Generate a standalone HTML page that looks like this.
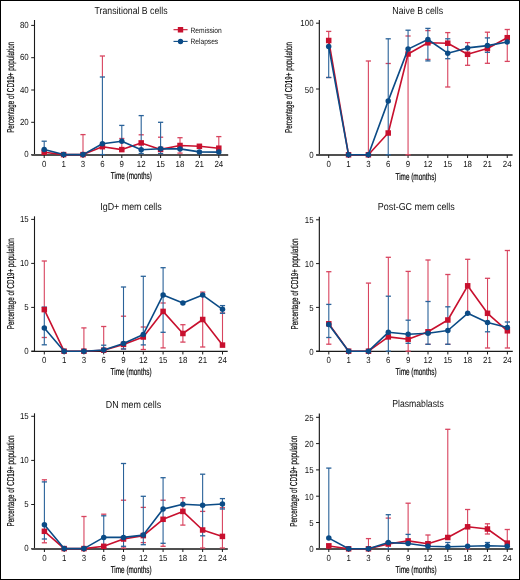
<!DOCTYPE html><html><head><meta charset="utf-8"><title>B cell subsets</title>
<style>html,body{margin:0;padding:0;background:#fff;}svg{display:block;will-change:transform;text-rendering:geometricPrecision;}text{font-family:"Liberation Sans", sans-serif;}.tk{fill:#111;}</style></head><body>
<svg width="520" height="580" viewBox="0 0 520 580">
<rect x="0" y="0" width="520" height="580" fill="#fff"/>
<rect x="0.5" y="0.5" width="519" height="579" fill="none" stroke="#000" stroke-width="1"/>
<g><text x="131.1" y="13.8" font-size="10.1" text-anchor="middle" fill="#111" textLength="73" lengthAdjust="spacingAndGlyphs">Transitional B cells</text><line x1="34.5" y1="20" x2="34.5" y2="155" stroke="#1a1a1a" stroke-width="1.1"/><line x1="31.2" y1="154.6" x2="34.5" y2="154.6" stroke="#1a1a1a" stroke-width="1"/><text x="28.7" y="157.3" font-size="8.8" text-anchor="end" class="tk" textLength="4.4" lengthAdjust="spacingAndGlyphs">0</text><line x1="31.2" y1="122.3" x2="34.5" y2="122.3" stroke="#1a1a1a" stroke-width="1"/><text x="28.7" y="125" font-size="8.8" text-anchor="end" class="tk" textLength="8.81" lengthAdjust="spacingAndGlyphs">20</text><line x1="31.2" y1="90" x2="34.5" y2="90" stroke="#1a1a1a" stroke-width="1"/><text x="28.7" y="92.7" font-size="8.8" text-anchor="end" class="tk" textLength="8.81" lengthAdjust="spacingAndGlyphs">40</text><line x1="31.2" y1="57.7" x2="34.5" y2="57.7" stroke="#1a1a1a" stroke-width="1"/><text x="28.7" y="60.4" font-size="8.8" text-anchor="end" class="tk" textLength="8.81" lengthAdjust="spacingAndGlyphs">60</text><line x1="31.2" y1="25.4" x2="34.5" y2="25.4" stroke="#1a1a1a" stroke-width="1"/><text x="28.7" y="28.1" font-size="8.8" text-anchor="end" class="tk" textLength="8.81" lengthAdjust="spacingAndGlyphs">80</text><line x1="31.5" y1="155" x2="228.2" y2="155" stroke="#505050" stroke-width="2"/><line x1="44.2" y1="155" x2="44.2" y2="158" stroke="#1a1a1a" stroke-width="1"/><text x="44.2" y="166.6" font-size="8.8" text-anchor="middle" class="tk" textLength="4.4" lengthAdjust="spacingAndGlyphs">0</text><line x1="63.6" y1="155" x2="63.6" y2="158" stroke="#1a1a1a" stroke-width="1"/><text x="63.6" y="166.6" font-size="8.8" text-anchor="middle" class="tk" textLength="4.4" lengthAdjust="spacingAndGlyphs">1</text><line x1="83" y1="155" x2="83" y2="158" stroke="#1a1a1a" stroke-width="1"/><text x="83" y="166.6" font-size="8.8" text-anchor="middle" class="tk" textLength="4.4" lengthAdjust="spacingAndGlyphs">3</text><line x1="102.4" y1="155" x2="102.4" y2="158" stroke="#1a1a1a" stroke-width="1"/><text x="102.4" y="166.6" font-size="8.8" text-anchor="middle" class="tk" textLength="4.4" lengthAdjust="spacingAndGlyphs">6</text><line x1="121.8" y1="155" x2="121.8" y2="158" stroke="#1a1a1a" stroke-width="1"/><text x="121.8" y="166.6" font-size="8.8" text-anchor="middle" class="tk" textLength="4.4" lengthAdjust="spacingAndGlyphs">9</text><line x1="141.2" y1="155" x2="141.2" y2="158" stroke="#1a1a1a" stroke-width="1"/><text x="141.2" y="166.6" font-size="8.8" text-anchor="middle" class="tk" textLength="8.81" lengthAdjust="spacingAndGlyphs">12</text><line x1="160.6" y1="155" x2="160.6" y2="158" stroke="#1a1a1a" stroke-width="1"/><text x="160.6" y="166.6" font-size="8.8" text-anchor="middle" class="tk" textLength="8.81" lengthAdjust="spacingAndGlyphs">15</text><line x1="180" y1="155" x2="180" y2="158" stroke="#1a1a1a" stroke-width="1"/><text x="180" y="166.6" font-size="8.8" text-anchor="middle" class="tk" textLength="8.81" lengthAdjust="spacingAndGlyphs">18</text><line x1="199.4" y1="155" x2="199.4" y2="158" stroke="#1a1a1a" stroke-width="1"/><text x="199.4" y="166.6" font-size="8.8" text-anchor="middle" class="tk" textLength="8.81" lengthAdjust="spacingAndGlyphs">21</text><line x1="218.8" y1="155" x2="218.8" y2="158" stroke="#1a1a1a" stroke-width="1"/><text x="218.8" y="166.6" font-size="8.8" text-anchor="middle" class="tk" textLength="8.81" lengthAdjust="spacingAndGlyphs">24</text><text x="131.35" y="178.9" font-size="10" text-anchor="middle" fill="#000" stroke="#000" stroke-width="0.18" textLength="41" lengthAdjust="spacingAndGlyphs">Time (months)</text><text transform="translate(14 87.35) rotate(-90)" x="0" y="0" font-size="10" text-anchor="middle" fill="#000" stroke="#000" stroke-width="0.18" textLength="91" lengthAdjust="spacingAndGlyphs">Percentage of CD19+ population</text><line x1="83" y1="134.6" x2="83" y2="154.6" stroke="#d8445f" stroke-width="1.1"/><line x1="80.4" y1="134.6" x2="85.6" y2="134.6" stroke="#d8445f" stroke-width="1.3"/><line x1="102.4" y1="56" x2="102.4" y2="77" stroke="#d8445f" stroke-width="1.1"/><line x1="99.8" y1="56" x2="105" y2="56" stroke="#d8445f" stroke-width="1.3"/><line x1="121.8" y1="141.2" x2="121.8" y2="149.6" stroke="#d8445f" stroke-width="1.1"/><line x1="119.2" y1="138.5" x2="124.4" y2="138.5" stroke="#d8445f" stroke-width="1.3"/><line x1="138.6" y1="134.8" x2="143.8" y2="134.8" stroke="#d8445f" stroke-width="1.3"/><line x1="158" y1="137.2" x2="163.2" y2="137.2" stroke="#d8445f" stroke-width="1.3"/><line x1="180" y1="137.7" x2="180" y2="145.5" stroke="#d8445f" stroke-width="1.1"/><line x1="177.4" y1="137.7" x2="182.6" y2="137.7" stroke="#d8445f" stroke-width="1.3"/><line x1="180" y1="145.5" x2="180" y2="153.1" stroke="#d8445f" stroke-width="1.1"/><line x1="177.4" y1="153.1" x2="182.6" y2="153.1" stroke="#d8445f" stroke-width="1.3"/><line x1="218.8" y1="136.6" x2="218.8" y2="148.2" stroke="#d8445f" stroke-width="1.1"/><line x1="216.2" y1="136.6" x2="221.4" y2="136.6" stroke="#d8445f" stroke-width="1.3"/><line x1="44.2" y1="141.2" x2="44.2" y2="149.4" stroke="#2a6299" stroke-width="1.1"/><line x1="41.6" y1="141.2" x2="46.8" y2="141.2" stroke="#2a6299" stroke-width="1.3"/><line x1="102.4" y1="77" x2="102.4" y2="143.7" stroke="#2a6299" stroke-width="1.1"/><line x1="99.8" y1="77" x2="105" y2="77" stroke="#2a6299" stroke-width="1.3"/><line x1="102.4" y1="143.7" x2="102.4" y2="154.6" stroke="#2a6299" stroke-width="1.1"/><line x1="99.8" y1="154.6" x2="105" y2="154.6" stroke="#2a6299" stroke-width="1.3"/><line x1="121.8" y1="125.4" x2="121.8" y2="141.2" stroke="#2a6299" stroke-width="1.1"/><line x1="119.2" y1="125.4" x2="124.4" y2="125.4" stroke="#2a6299" stroke-width="1.3"/><line x1="141.2" y1="115.6" x2="141.2" y2="149.8" stroke="#2a6299" stroke-width="1.1"/><line x1="138.6" y1="115.6" x2="143.8" y2="115.6" stroke="#2a6299" stroke-width="1.3"/><line x1="141.2" y1="149.8" x2="141.2" y2="153.5" stroke="#2a6299" stroke-width="1.1"/><line x1="138.6" y1="153.5" x2="143.8" y2="153.5" stroke="#2a6299" stroke-width="1.3"/><line x1="160.6" y1="122.3" x2="160.6" y2="148.8" stroke="#2a6299" stroke-width="1.1"/><line x1="158" y1="122.3" x2="163.2" y2="122.3" stroke="#2a6299" stroke-width="1.3"/><line x1="160.6" y1="148.8" x2="160.6" y2="153.5" stroke="#2a6299" stroke-width="1.1"/><line x1="158" y1="153.5" x2="163.2" y2="153.5" stroke="#2a6299" stroke-width="1.3"/><polyline points="44.2,152.3 63.6,154.6 83,154.6 102.4,146.7 121.8,149.6 141.2,142.9 160.6,149.4 180,145.5 199.4,146.3 218.8,148.2" fill="none" stroke="#c8102e" stroke-width="1.6" stroke-linejoin="round"/><rect x="41.45" y="149.55" width="5.5" height="5.5" fill="#c8102e"/><rect x="60.85" y="151.85" width="5.5" height="5.5" fill="#c8102e"/><rect x="80.25" y="151.85" width="5.5" height="5.5" fill="#c8102e"/><rect x="99.65" y="143.95" width="5.5" height="5.5" fill="#c8102e"/><rect x="119.05" y="146.85" width="5.5" height="5.5" fill="#c8102e"/><rect x="138.45" y="140.15" width="5.5" height="5.5" fill="#c8102e"/><rect x="157.85" y="146.65" width="5.5" height="5.5" fill="#c8102e"/><rect x="177.25" y="142.75" width="5.5" height="5.5" fill="#c8102e"/><rect x="196.65" y="143.55" width="5.5" height="5.5" fill="#c8102e"/><rect x="216.05" y="145.45" width="5.5" height="5.5" fill="#c8102e"/><polyline points="44.2,149.4 63.6,154.6 83,154.6 102.4,143.7 121.8,141.2 141.2,149.8 160.6,148.8 180,148.9 199.4,151.9 218.8,152.1" fill="none" stroke="#0b4b86" stroke-width="1.6" stroke-linejoin="round"/><circle cx="44.2" cy="149.4" r="2.75" fill="#0b4b86"/><circle cx="63.6" cy="154.6" r="2.75" fill="#0b4b86"/><circle cx="83" cy="154.6" r="2.75" fill="#0b4b86"/><circle cx="102.4" cy="143.7" r="2.75" fill="#0b4b86"/><circle cx="121.8" cy="141.2" r="2.75" fill="#0b4b86"/><circle cx="141.2" cy="149.8" r="2.75" fill="#0b4b86"/><circle cx="160.6" cy="148.8" r="2.75" fill="#0b4b86"/><circle cx="180" cy="148.9" r="2.75" fill="#0b4b86"/><circle cx="199.4" cy="151.9" r="2.75" fill="#0b4b86"/><circle cx="218.8" cy="152.1" r="2.75" fill="#0b4b86"/><line x1="173.5" y1="29.7" x2="187.6" y2="29.7" stroke="#c8102e" stroke-width="1.1"/><rect x="177.8" y="27.0" width="5.4" height="5.5" fill="#c8102e"/><text x="190.5" y="32.5" font-size="7.8" fill="#111" textLength="31.3" lengthAdjust="spacingAndGlyphs">Remission</text><line x1="173.5" y1="41.4" x2="187.6" y2="41.4" stroke="#0b4b86" stroke-width="1.1"/><circle cx="180.5" cy="41.5" r="2.65" fill="#0b4b86"/><text x="190.5" y="44.0" font-size="7.8" fill="#111" textLength="27.7" lengthAdjust="spacingAndGlyphs">Relapses</text></g>
<g><text x="417.7" y="13.8" font-size="10.1" text-anchor="middle" fill="#111" textLength="50.8" lengthAdjust="spacingAndGlyphs">Naive B cells</text><line x1="319.35" y1="20.1" x2="319.35" y2="155" stroke="#222" stroke-width="1.2"/><line x1="316.05" y1="154.8" x2="319.35" y2="154.8" stroke="#1a1a1a" stroke-width="1"/><text x="313.55" y="158.3" font-size="8.8" text-anchor="end" class="tk" textLength="4.4" lengthAdjust="spacingAndGlyphs">0</text><line x1="316.05" y1="89" x2="319.35" y2="89" stroke="#1a1a1a" stroke-width="1"/><text x="313.55" y="92.5" font-size="8.8" text-anchor="end" class="tk" textLength="8.81" lengthAdjust="spacingAndGlyphs">50</text><line x1="316.05" y1="23.2" x2="319.35" y2="23.2" stroke="#1a1a1a" stroke-width="1"/><text x="313.55" y="26" font-size="8.8" text-anchor="end" class="tk" textLength="13.21" lengthAdjust="spacingAndGlyphs">100</text><line x1="316.2" y1="155" x2="512.6" y2="155" stroke="#505050" stroke-width="2"/><line x1="328.7" y1="155" x2="328.7" y2="158" stroke="#1a1a1a" stroke-width="1"/><text x="328.7" y="166.7" font-size="8.8" text-anchor="middle" class="tk" textLength="4.4" lengthAdjust="spacingAndGlyphs">0</text><line x1="348.54" y1="155" x2="348.54" y2="158" stroke="#1a1a1a" stroke-width="1"/><text x="348.54" y="166.7" font-size="8.8" text-anchor="middle" class="tk" textLength="4.4" lengthAdjust="spacingAndGlyphs">1</text><line x1="368.38" y1="155" x2="368.38" y2="158" stroke="#1a1a1a" stroke-width="1"/><text x="368.38" y="166.7" font-size="8.8" text-anchor="middle" class="tk" textLength="4.4" lengthAdjust="spacingAndGlyphs">3</text><line x1="388.22" y1="155" x2="388.22" y2="158" stroke="#1a1a1a" stroke-width="1"/><text x="388.22" y="166.7" font-size="8.8" text-anchor="middle" class="tk" textLength="4.4" lengthAdjust="spacingAndGlyphs">6</text><line x1="408.06" y1="155" x2="408.06" y2="158" stroke="#1a1a1a" stroke-width="1"/><text x="408.06" y="166.7" font-size="8.8" text-anchor="middle" class="tk" textLength="4.4" lengthAdjust="spacingAndGlyphs">9</text><line x1="427.9" y1="155" x2="427.9" y2="158" stroke="#1a1a1a" stroke-width="1"/><text x="427.9" y="166.7" font-size="8.8" text-anchor="middle" class="tk" textLength="8.81" lengthAdjust="spacingAndGlyphs">12</text><line x1="447.74" y1="155" x2="447.74" y2="158" stroke="#1a1a1a" stroke-width="1"/><text x="447.74" y="166.7" font-size="8.8" text-anchor="middle" class="tk" textLength="8.81" lengthAdjust="spacingAndGlyphs">15</text><line x1="467.58" y1="155" x2="467.58" y2="158" stroke="#1a1a1a" stroke-width="1"/><text x="467.58" y="166.7" font-size="8.8" text-anchor="middle" class="tk" textLength="8.81" lengthAdjust="spacingAndGlyphs">18</text><line x1="487.42" y1="155" x2="487.42" y2="158" stroke="#1a1a1a" stroke-width="1"/><text x="487.42" y="166.7" font-size="8.8" text-anchor="middle" class="tk" textLength="8.81" lengthAdjust="spacingAndGlyphs">21</text><line x1="507.26" y1="155" x2="507.26" y2="158" stroke="#1a1a1a" stroke-width="1"/><text x="507.26" y="166.7" font-size="8.8" text-anchor="middle" class="tk" textLength="8.81" lengthAdjust="spacingAndGlyphs">24</text><text x="415.98" y="179.8" font-size="10" text-anchor="middle" fill="#000" stroke="#000" stroke-width="0.18" textLength="41" lengthAdjust="spacingAndGlyphs">Time (months)</text><text transform="translate(292.4 87.45) rotate(-90)" x="0" y="0" font-size="10" text-anchor="middle" fill="#000" stroke="#000" stroke-width="0.18" textLength="91" lengthAdjust="spacingAndGlyphs">Percentage of CD19+ population</text><line x1="328.7" y1="31.4" x2="328.7" y2="40.5" stroke="#d8445f" stroke-width="1.1"/><line x1="326.1" y1="31.4" x2="331.3" y2="31.4" stroke="#d8445f" stroke-width="1.3"/><line x1="328.7" y1="40.5" x2="328.7" y2="46.6" stroke="#d8445f" stroke-width="1.1"/><line x1="326.1" y1="77.5" x2="331.3" y2="77.5" stroke="#d8445f" stroke-width="1.3"/><line x1="368.38" y1="61" x2="368.38" y2="154.8" stroke="#d8445f" stroke-width="1.1"/><line x1="365.78" y1="61" x2="370.98" y2="61" stroke="#d8445f" stroke-width="1.3"/><line x1="385.62" y1="63.5" x2="390.82" y2="63.5" stroke="#d8445f" stroke-width="1.3"/><line x1="408.06" y1="49.1" x2="408.06" y2="54" stroke="#d8445f" stroke-width="1.1"/><line x1="405.46" y1="36" x2="410.66" y2="36" stroke="#d8445f" stroke-width="1.3"/><line x1="408.06" y1="54" x2="408.06" y2="154.8" stroke="#d8445f" stroke-width="1.1"/><line x1="405.46" y1="154.8" x2="410.66" y2="154.8" stroke="#d8445f" stroke-width="1.3"/><line x1="425.3" y1="30.6" x2="430.5" y2="30.6" stroke="#d8445f" stroke-width="1.3"/><line x1="425.3" y1="59.4" x2="430.5" y2="59.4" stroke="#d8445f" stroke-width="1.3"/><line x1="447.74" y1="32.6" x2="447.74" y2="38.8" stroke="#d8445f" stroke-width="1.1"/><line x1="445.14" y1="32.6" x2="450.34" y2="32.6" stroke="#d8445f" stroke-width="1.3"/><line x1="447.74" y1="58.7" x2="447.74" y2="87" stroke="#d8445f" stroke-width="1.1"/><line x1="445.14" y1="87" x2="450.34" y2="87" stroke="#d8445f" stroke-width="1.3"/><line x1="467.58" y1="42.6" x2="467.58" y2="54.3" stroke="#d8445f" stroke-width="1.1"/><line x1="464.98" y1="42.6" x2="470.18" y2="42.6" stroke="#d8445f" stroke-width="1.3"/><line x1="467.58" y1="54.3" x2="467.58" y2="65.3" stroke="#d8445f" stroke-width="1.1"/><line x1="464.98" y1="65.3" x2="470.18" y2="65.3" stroke="#d8445f" stroke-width="1.3"/><line x1="487.42" y1="32.2" x2="487.42" y2="37.9" stroke="#d8445f" stroke-width="1.1"/><line x1="484.82" y1="32.2" x2="490.02" y2="32.2" stroke="#d8445f" stroke-width="1.3"/><line x1="487.42" y1="52.3" x2="487.42" y2="63.3" stroke="#d8445f" stroke-width="1.1"/><line x1="484.82" y1="63.3" x2="490.02" y2="63.3" stroke="#d8445f" stroke-width="1.3"/><line x1="507.26" y1="29.5" x2="507.26" y2="37.7" stroke="#d8445f" stroke-width="1.1"/><line x1="504.66" y1="29.5" x2="509.86" y2="29.5" stroke="#d8445f" stroke-width="1.3"/><line x1="507.26" y1="37.7" x2="507.26" y2="61.4" stroke="#d8445f" stroke-width="1.1"/><line x1="504.66" y1="61.4" x2="509.86" y2="61.4" stroke="#d8445f" stroke-width="1.3"/><line x1="328.7" y1="46.6" x2="328.7" y2="77.5" stroke="#2a6299" stroke-width="1.1"/><line x1="326.1" y1="77.5" x2="331.3" y2="77.5" stroke="#2a6299" stroke-width="1.3"/><line x1="388.22" y1="38.8" x2="388.22" y2="100.9" stroke="#2a6299" stroke-width="1.1"/><line x1="385.62" y1="38.8" x2="390.82" y2="38.8" stroke="#2a6299" stroke-width="1.3"/><line x1="388.22" y1="100.9" x2="388.22" y2="154.8" stroke="#2a6299" stroke-width="1.1"/><line x1="385.62" y1="154.8" x2="390.82" y2="154.8" stroke="#2a6299" stroke-width="1.3"/><line x1="408.06" y1="30.2" x2="408.06" y2="49.1" stroke="#2a6299" stroke-width="1.1"/><line x1="405.46" y1="30.2" x2="410.66" y2="30.2" stroke="#2a6299" stroke-width="1.3"/><line x1="427.9" y1="28.4" x2="427.9" y2="39.5" stroke="#2a6299" stroke-width="1.1"/><line x1="425.3" y1="28.4" x2="430.5" y2="28.4" stroke="#2a6299" stroke-width="1.3"/><line x1="427.9" y1="39.5" x2="427.9" y2="60.9" stroke="#2a6299" stroke-width="1.1"/><line x1="425.3" y1="60.9" x2="430.5" y2="60.9" stroke="#2a6299" stroke-width="1.3"/><line x1="447.74" y1="38.8" x2="447.74" y2="53.2" stroke="#2a6299" stroke-width="1.1"/><line x1="445.14" y1="38.8" x2="450.34" y2="38.8" stroke="#2a6299" stroke-width="1.3"/><line x1="447.74" y1="53.2" x2="447.74" y2="58.7" stroke="#2a6299" stroke-width="1.1"/><line x1="445.14" y1="58.7" x2="450.34" y2="58.7" stroke="#2a6299" stroke-width="1.3"/><line x1="487.42" y1="37.9" x2="487.42" y2="45.6" stroke="#2a6299" stroke-width="1.1"/><line x1="484.82" y1="37.9" x2="490.02" y2="37.9" stroke="#2a6299" stroke-width="1.3"/><line x1="487.42" y1="45.6" x2="487.42" y2="52.3" stroke="#2a6299" stroke-width="1.1"/><line x1="484.82" y1="52.3" x2="490.02" y2="52.3" stroke="#2a6299" stroke-width="1.3"/><polyline points="328.7,40.5 348.54,154.8 368.38,154.8 388.22,133 408.06,54 427.9,42.8 447.74,43.2 467.58,54.3 487.42,48.5 507.26,37.7" fill="none" stroke="#c8102e" stroke-width="1.6" stroke-linejoin="round"/><rect x="325.95" y="37.75" width="5.5" height="5.5" fill="#c8102e"/><rect x="345.79" y="152.05" width="5.5" height="5.5" fill="#c8102e"/><rect x="365.63" y="152.05" width="5.5" height="5.5" fill="#c8102e"/><rect x="385.47" y="130.25" width="5.5" height="5.5" fill="#c8102e"/><rect x="405.31" y="51.25" width="5.5" height="5.5" fill="#c8102e"/><rect x="425.15" y="40.05" width="5.5" height="5.5" fill="#c8102e"/><rect x="444.99" y="40.45" width="5.5" height="5.5" fill="#c8102e"/><rect x="464.83" y="51.55" width="5.5" height="5.5" fill="#c8102e"/><rect x="484.67" y="45.75" width="5.5" height="5.5" fill="#c8102e"/><rect x="504.51" y="34.95" width="5.5" height="5.5" fill="#c8102e"/><polyline points="328.7,46.6 348.54,154.8 368.38,154.8 388.22,100.9 408.06,49.1 427.9,39.5 447.74,53.2 467.58,47.9 487.42,45.6 507.26,42" fill="none" stroke="#0b4b86" stroke-width="1.6" stroke-linejoin="round"/><circle cx="328.7" cy="46.6" r="2.75" fill="#0b4b86"/><circle cx="348.54" cy="154.8" r="2.75" fill="#0b4b86"/><circle cx="368.38" cy="154.8" r="2.75" fill="#0b4b86"/><circle cx="388.22" cy="100.9" r="2.75" fill="#0b4b86"/><circle cx="408.06" cy="49.1" r="2.75" fill="#0b4b86"/><circle cx="427.9" cy="39.5" r="2.75" fill="#0b4b86"/><circle cx="447.74" cy="53.2" r="2.75" fill="#0b4b86"/><circle cx="467.58" cy="47.9" r="2.75" fill="#0b4b86"/><circle cx="487.42" cy="45.6" r="2.75" fill="#0b4b86"/><circle cx="507.26" cy="42" r="2.75" fill="#0b4b86"/></g>
<g><text x="131" y="210.2" font-size="10.1" text-anchor="middle" fill="#111" textLength="61.5" lengthAdjust="spacingAndGlyphs">IgD+ mem cells</text><line x1="34.5" y1="216.3" x2="34.5" y2="351.45" stroke="#1a1a1a" stroke-width="1.1"/><line x1="31.2" y1="351.2" x2="34.5" y2="351.2" stroke="#1a1a1a" stroke-width="1"/><text x="28.7" y="353.9" font-size="8.8" text-anchor="end" class="tk" textLength="4.4" lengthAdjust="spacingAndGlyphs">0</text><line x1="31.2" y1="307.4" x2="34.5" y2="307.4" stroke="#1a1a1a" stroke-width="1"/><text x="28.7" y="310.1" font-size="8.8" text-anchor="end" class="tk" textLength="4.4" lengthAdjust="spacingAndGlyphs">5</text><line x1="31.2" y1="263.4" x2="34.5" y2="263.4" stroke="#1a1a1a" stroke-width="1"/><text x="28.7" y="266.1" font-size="8.8" text-anchor="end" class="tk" textLength="8.81" lengthAdjust="spacingAndGlyphs">10</text><line x1="31.2" y1="219.4" x2="34.5" y2="219.4" stroke="#1a1a1a" stroke-width="1"/><text x="28.7" y="222.1" font-size="8.8" text-anchor="end" class="tk" textLength="8.81" lengthAdjust="spacingAndGlyphs">15</text><line x1="31.5" y1="351.45" x2="227.7" y2="351.45" stroke="#1a1a1a" stroke-width="1.2"/><line x1="44.3" y1="351.45" x2="44.3" y2="354.45" stroke="#1a1a1a" stroke-width="1"/><text x="44.3" y="363.1" font-size="8.8" text-anchor="middle" class="tk" textLength="4.4" lengthAdjust="spacingAndGlyphs">0</text><line x1="64.1" y1="351.45" x2="64.1" y2="354.45" stroke="#1a1a1a" stroke-width="1"/><text x="64.1" y="363.1" font-size="8.8" text-anchor="middle" class="tk" textLength="4.4" lengthAdjust="spacingAndGlyphs">1</text><line x1="83.9" y1="351.45" x2="83.9" y2="354.45" stroke="#1a1a1a" stroke-width="1"/><text x="83.9" y="363.1" font-size="8.8" text-anchor="middle" class="tk" textLength="4.4" lengthAdjust="spacingAndGlyphs">3</text><line x1="103.7" y1="351.45" x2="103.7" y2="354.45" stroke="#1a1a1a" stroke-width="1"/><text x="103.7" y="363.1" font-size="8.8" text-anchor="middle" class="tk" textLength="4.4" lengthAdjust="spacingAndGlyphs">6</text><line x1="123.5" y1="351.45" x2="123.5" y2="354.45" stroke="#1a1a1a" stroke-width="1"/><text x="123.5" y="363.1" font-size="8.8" text-anchor="middle" class="tk" textLength="4.4" lengthAdjust="spacingAndGlyphs">9</text><line x1="143.3" y1="351.45" x2="143.3" y2="354.45" stroke="#1a1a1a" stroke-width="1"/><text x="143.3" y="363.1" font-size="8.8" text-anchor="middle" class="tk" textLength="8.81" lengthAdjust="spacingAndGlyphs">12</text><line x1="163.1" y1="351.45" x2="163.1" y2="354.45" stroke="#1a1a1a" stroke-width="1"/><text x="163.1" y="363.1" font-size="8.8" text-anchor="middle" class="tk" textLength="8.81" lengthAdjust="spacingAndGlyphs">15</text><line x1="182.9" y1="351.45" x2="182.9" y2="354.45" stroke="#1a1a1a" stroke-width="1"/><text x="182.9" y="363.1" font-size="8.8" text-anchor="middle" class="tk" textLength="8.81" lengthAdjust="spacingAndGlyphs">18</text><line x1="202.7" y1="351.45" x2="202.7" y2="354.45" stroke="#1a1a1a" stroke-width="1"/><text x="202.7" y="363.1" font-size="8.8" text-anchor="middle" class="tk" textLength="8.81" lengthAdjust="spacingAndGlyphs">21</text><line x1="222.5" y1="351.45" x2="222.5" y2="354.45" stroke="#1a1a1a" stroke-width="1"/><text x="222.5" y="363.1" font-size="8.8" text-anchor="middle" class="tk" textLength="8.81" lengthAdjust="spacingAndGlyphs">24</text><text x="131.1" y="375.4" font-size="10" text-anchor="middle" fill="#000" stroke="#000" stroke-width="0.18" textLength="41" lengthAdjust="spacingAndGlyphs">Time (months)</text><text transform="translate(14.1 283.75) rotate(-90)" x="0" y="0" font-size="10" text-anchor="middle" fill="#000" stroke="#000" stroke-width="0.18" textLength="91" lengthAdjust="spacingAndGlyphs">Percentage of CD19+ population</text><line x1="44.3" y1="261" x2="44.3" y2="307.1" stroke="#d8445f" stroke-width="1.1"/><line x1="41.7" y1="261" x2="46.9" y2="261" stroke="#d8445f" stroke-width="1.3"/><line x1="41.7" y1="337.5" x2="46.9" y2="337.5" stroke="#d8445f" stroke-width="1.3"/><line x1="83.9" y1="327.9" x2="83.9" y2="351.2" stroke="#d8445f" stroke-width="1.1"/><line x1="81.3" y1="327.9" x2="86.5" y2="327.9" stroke="#d8445f" stroke-width="1.3"/><line x1="103.7" y1="326.5" x2="103.7" y2="345.2" stroke="#d8445f" stroke-width="1.1"/><line x1="101.1" y1="326.5" x2="106.3" y2="326.5" stroke="#d8445f" stroke-width="1.3"/><line x1="120.9" y1="316.2" x2="126.1" y2="316.2" stroke="#d8445f" stroke-width="1.3"/><line x1="120.9" y1="349" x2="126.1" y2="349" stroke="#d8445f" stroke-width="1.3"/><line x1="140.7" y1="327" x2="145.9" y2="327" stroke="#d8445f" stroke-width="1.3"/><line x1="143.3" y1="344.9" x2="143.3" y2="349.5" stroke="#d8445f" stroke-width="1.1"/><line x1="140.7" y1="349.5" x2="145.9" y2="349.5" stroke="#d8445f" stroke-width="1.3"/><line x1="160.5" y1="303" x2="165.7" y2="303" stroke="#d8445f" stroke-width="1.3"/><line x1="163.1" y1="332.3" x2="163.1" y2="347.9" stroke="#d8445f" stroke-width="1.1"/><line x1="160.5" y1="347.9" x2="165.7" y2="347.9" stroke="#d8445f" stroke-width="1.3"/><line x1="182.9" y1="324.7" x2="182.9" y2="333.5" stroke="#d8445f" stroke-width="1.1"/><line x1="180.3" y1="324.7" x2="185.5" y2="324.7" stroke="#d8445f" stroke-width="1.3"/><line x1="182.9" y1="333.5" x2="182.9" y2="342.1" stroke="#d8445f" stroke-width="1.1"/><line x1="180.3" y1="342.1" x2="185.5" y2="342.1" stroke="#d8445f" stroke-width="1.3"/><line x1="202.7" y1="292.1" x2="202.7" y2="319.5" stroke="#d8445f" stroke-width="1.1"/><line x1="200.1" y1="292.1" x2="205.3" y2="292.1" stroke="#d8445f" stroke-width="1.3"/><line x1="202.7" y1="319.5" x2="202.7" y2="347" stroke="#d8445f" stroke-width="1.1"/><line x1="200.1" y1="347" x2="205.3" y2="347" stroke="#d8445f" stroke-width="1.3"/><line x1="222.5" y1="313.3" x2="222.5" y2="345.1" stroke="#d8445f" stroke-width="1.1"/><line x1="219.9" y1="313" x2="225.1" y2="313" stroke="#d8445f" stroke-width="1.3"/><line x1="44.3" y1="307.1" x2="44.3" y2="327.9" stroke="#2a6299" stroke-width="1.1"/><line x1="41.7" y1="307.1" x2="46.9" y2="307.1" stroke="#2a6299" stroke-width="1.3"/><line x1="44.3" y1="327.9" x2="44.3" y2="344.8" stroke="#2a6299" stroke-width="1.1"/><line x1="41.7" y1="344.8" x2="46.9" y2="344.8" stroke="#2a6299" stroke-width="1.3"/><line x1="103.7" y1="345.2" x2="103.7" y2="350" stroke="#2a6299" stroke-width="1.1"/><line x1="101.1" y1="345.2" x2="106.3" y2="345.2" stroke="#2a6299" stroke-width="1.3"/><line x1="123.5" y1="287" x2="123.5" y2="343.5" stroke="#2a6299" stroke-width="1.1"/><line x1="120.9" y1="287" x2="126.1" y2="287" stroke="#2a6299" stroke-width="1.3"/><line x1="123.5" y1="343.5" x2="123.5" y2="349" stroke="#2a6299" stroke-width="1.1"/><line x1="120.9" y1="349" x2="126.1" y2="349" stroke="#2a6299" stroke-width="1.3"/><line x1="143.3" y1="276.3" x2="143.3" y2="334.4" stroke="#2a6299" stroke-width="1.1"/><line x1="140.7" y1="276.3" x2="145.9" y2="276.3" stroke="#2a6299" stroke-width="1.3"/><line x1="143.3" y1="334.4" x2="143.3" y2="344.9" stroke="#2a6299" stroke-width="1.1"/><line x1="140.7" y1="344.9" x2="145.9" y2="344.9" stroke="#2a6299" stroke-width="1.3"/><line x1="163.1" y1="267.7" x2="163.1" y2="294.9" stroke="#2a6299" stroke-width="1.1"/><line x1="160.5" y1="267.7" x2="165.7" y2="267.7" stroke="#2a6299" stroke-width="1.3"/><line x1="163.1" y1="294.9" x2="163.1" y2="332.3" stroke="#2a6299" stroke-width="1.1"/><line x1="160.5" y1="332.3" x2="165.7" y2="332.3" stroke="#2a6299" stroke-width="1.3"/><line x1="222.5" y1="305.6" x2="222.5" y2="309.3" stroke="#2a6299" stroke-width="1.1"/><line x1="219.9" y1="305.6" x2="225.1" y2="305.6" stroke="#2a6299" stroke-width="1.3"/><line x1="222.5" y1="309.3" x2="222.5" y2="313.3" stroke="#2a6299" stroke-width="1.1"/><line x1="219.9" y1="313.3" x2="225.1" y2="313.3" stroke="#2a6299" stroke-width="1.3"/><polyline points="44.3,309.6 64.1,351.2 83.9,351.2 103.7,350.2 123.5,344.4 143.3,337 163.1,311.4 182.9,333.5 202.7,319.5 222.5,345.1" fill="none" stroke="#c8102e" stroke-width="1.6" stroke-linejoin="round"/><rect x="41.55" y="306.85" width="5.5" height="5.5" fill="#c8102e"/><rect x="61.35" y="348.45" width="5.5" height="5.5" fill="#c8102e"/><rect x="81.15" y="348.45" width="5.5" height="5.5" fill="#c8102e"/><rect x="100.95" y="347.45" width="5.5" height="5.5" fill="#c8102e"/><rect x="120.75" y="341.65" width="5.5" height="5.5" fill="#c8102e"/><rect x="140.55" y="334.25" width="5.5" height="5.5" fill="#c8102e"/><rect x="160.35" y="308.65" width="5.5" height="5.5" fill="#c8102e"/><rect x="180.15" y="330.75" width="5.5" height="5.5" fill="#c8102e"/><rect x="199.95" y="316.75" width="5.5" height="5.5" fill="#c8102e"/><rect x="219.75" y="342.35" width="5.5" height="5.5" fill="#c8102e"/><polyline points="44.3,327.9 64.1,351.2 83.9,351.2 103.7,350 123.5,343.5 143.3,334.4 163.1,294.9 182.9,303 202.7,295.1 222.5,309.3" fill="none" stroke="#0b4b86" stroke-width="1.6" stroke-linejoin="round"/><circle cx="44.3" cy="327.9" r="2.75" fill="#0b4b86"/><circle cx="64.1" cy="351.2" r="2.75" fill="#0b4b86"/><circle cx="83.9" cy="351.2" r="2.75" fill="#0b4b86"/><circle cx="103.7" cy="350" r="2.75" fill="#0b4b86"/><circle cx="123.5" cy="343.5" r="2.75" fill="#0b4b86"/><circle cx="143.3" cy="334.4" r="2.75" fill="#0b4b86"/><circle cx="163.1" cy="294.9" r="2.75" fill="#0b4b86"/><circle cx="182.9" cy="303" r="2.75" fill="#0b4b86"/><circle cx="202.7" cy="295.1" r="2.75" fill="#0b4b86"/><circle cx="222.5" cy="309.3" r="2.75" fill="#0b4b86"/></g>
<g><text x="416.3" y="210" font-size="10.1" text-anchor="middle" fill="#111" textLength="77" lengthAdjust="spacingAndGlyphs">Post-GC mem cells</text><line x1="319.35" y1="216.7" x2="319.35" y2="351.45" stroke="#222" stroke-width="1.2"/><line x1="316.05" y1="351.2" x2="319.35" y2="351.2" stroke="#1a1a1a" stroke-width="1"/><text x="313.55" y="354.7" font-size="8.8" text-anchor="end" class="tk" textLength="4.4" lengthAdjust="spacingAndGlyphs">0</text><line x1="316.05" y1="307.4" x2="319.35" y2="307.4" stroke="#1a1a1a" stroke-width="1"/><text x="313.55" y="310.9" font-size="8.8" text-anchor="end" class="tk" textLength="4.4" lengthAdjust="spacingAndGlyphs">5</text><line x1="316.05" y1="263.6" x2="319.35" y2="263.6" stroke="#1a1a1a" stroke-width="1"/><text x="313.55" y="267.1" font-size="8.8" text-anchor="end" class="tk" textLength="8.81" lengthAdjust="spacingAndGlyphs">10</text><line x1="316.05" y1="219.8" x2="319.35" y2="219.8" stroke="#1a1a1a" stroke-width="1"/><text x="313.55" y="223.3" font-size="8.8" text-anchor="end" class="tk" textLength="8.81" lengthAdjust="spacingAndGlyphs">15</text><line x1="316.2" y1="351.45" x2="512.8" y2="351.45" stroke="#1a1a1a" stroke-width="1.2"/><line x1="328.8" y1="351.45" x2="328.8" y2="354.45" stroke="#1a1a1a" stroke-width="1"/><text x="328.8" y="363.1" font-size="8.8" text-anchor="middle" class="tk" textLength="4.4" lengthAdjust="spacingAndGlyphs">0</text><line x1="348.64" y1="351.45" x2="348.64" y2="354.45" stroke="#1a1a1a" stroke-width="1"/><text x="348.64" y="363.1" font-size="8.8" text-anchor="middle" class="tk" textLength="4.4" lengthAdjust="spacingAndGlyphs">1</text><line x1="368.48" y1="351.45" x2="368.48" y2="354.45" stroke="#1a1a1a" stroke-width="1"/><text x="368.48" y="363.1" font-size="8.8" text-anchor="middle" class="tk" textLength="4.4" lengthAdjust="spacingAndGlyphs">3</text><line x1="388.32" y1="351.45" x2="388.32" y2="354.45" stroke="#1a1a1a" stroke-width="1"/><text x="388.32" y="363.1" font-size="8.8" text-anchor="middle" class="tk" textLength="4.4" lengthAdjust="spacingAndGlyphs">6</text><line x1="408.16" y1="351.45" x2="408.16" y2="354.45" stroke="#1a1a1a" stroke-width="1"/><text x="408.16" y="363.1" font-size="8.8" text-anchor="middle" class="tk" textLength="4.4" lengthAdjust="spacingAndGlyphs">9</text><line x1="428" y1="351.45" x2="428" y2="354.45" stroke="#1a1a1a" stroke-width="1"/><text x="428" y="363.1" font-size="8.8" text-anchor="middle" class="tk" textLength="8.81" lengthAdjust="spacingAndGlyphs">12</text><line x1="447.84" y1="351.45" x2="447.84" y2="354.45" stroke="#1a1a1a" stroke-width="1"/><text x="447.84" y="363.1" font-size="8.8" text-anchor="middle" class="tk" textLength="8.81" lengthAdjust="spacingAndGlyphs">15</text><line x1="467.68" y1="351.45" x2="467.68" y2="354.45" stroke="#1a1a1a" stroke-width="1"/><text x="467.68" y="363.1" font-size="8.8" text-anchor="middle" class="tk" textLength="8.81" lengthAdjust="spacingAndGlyphs">18</text><line x1="487.52" y1="351.45" x2="487.52" y2="354.45" stroke="#1a1a1a" stroke-width="1"/><text x="487.52" y="363.1" font-size="8.8" text-anchor="middle" class="tk" textLength="8.81" lengthAdjust="spacingAndGlyphs">21</text><line x1="507.36" y1="351.45" x2="507.36" y2="354.45" stroke="#1a1a1a" stroke-width="1"/><text x="507.36" y="363.1" font-size="8.8" text-anchor="middle" class="tk" textLength="8.81" lengthAdjust="spacingAndGlyphs">24</text><text x="416.07" y="375.4" font-size="10" text-anchor="middle" fill="#000" stroke="#000" stroke-width="0.18" textLength="41" lengthAdjust="spacingAndGlyphs">Time (months)</text><text transform="translate(298.3 283.95) rotate(-90)" x="0" y="0" font-size="10" text-anchor="middle" fill="#000" stroke="#000" stroke-width="0.18" textLength="91" lengthAdjust="spacingAndGlyphs">Percentage of CD19+ population</text><line x1="328.8" y1="271.7" x2="328.8" y2="304.4" stroke="#d8445f" stroke-width="1.1"/><line x1="326.2" y1="271.7" x2="331.4" y2="271.7" stroke="#d8445f" stroke-width="1.3"/><line x1="328.8" y1="337.5" x2="328.8" y2="344.2" stroke="#d8445f" stroke-width="1.1"/><line x1="326.2" y1="344.2" x2="331.4" y2="344.2" stroke="#d8445f" stroke-width="1.3"/><line x1="368.48" y1="283.1" x2="368.48" y2="351.2" stroke="#d8445f" stroke-width="1.1"/><line x1="365.88" y1="283.1" x2="371.08" y2="283.1" stroke="#d8445f" stroke-width="1.3"/><line x1="388.32" y1="257.3" x2="388.32" y2="296.2" stroke="#d8445f" stroke-width="1.1"/><line x1="385.72" y1="257.3" x2="390.92" y2="257.3" stroke="#d8445f" stroke-width="1.3"/><line x1="408.16" y1="271.4" x2="408.16" y2="320.2" stroke="#d8445f" stroke-width="1.1"/><line x1="405.56" y1="271.4" x2="410.76" y2="271.4" stroke="#d8445f" stroke-width="1.3"/><line x1="408.16" y1="343.3" x2="408.16" y2="351.2" stroke="#d8445f" stroke-width="1.1"/><line x1="405.56" y1="351.2" x2="410.76" y2="351.2" stroke="#d8445f" stroke-width="1.3"/><line x1="428" y1="260" x2="428" y2="301.5" stroke="#d8445f" stroke-width="1.1"/><line x1="425.4" y1="260" x2="430.6" y2="260" stroke="#d8445f" stroke-width="1.3"/><line x1="425.4" y1="344.3" x2="430.6" y2="344.3" stroke="#d8445f" stroke-width="1.3"/><line x1="447.84" y1="274.5" x2="447.84" y2="306.8" stroke="#d8445f" stroke-width="1.1"/><line x1="445.24" y1="274.5" x2="450.44" y2="274.5" stroke="#d8445f" stroke-width="1.3"/><line x1="445.24" y1="344.3" x2="450.44" y2="344.3" stroke="#d8445f" stroke-width="1.3"/><line x1="467.68" y1="259.3" x2="467.68" y2="285.8" stroke="#d8445f" stroke-width="1.1"/><line x1="465.08" y1="259.3" x2="470.28" y2="259.3" stroke="#d8445f" stroke-width="1.3"/><line x1="467.68" y1="285.8" x2="467.68" y2="313.3" stroke="#d8445f" stroke-width="1.1"/><line x1="465.08" y1="313.3" x2="470.28" y2="313.3" stroke="#d8445f" stroke-width="1.3"/><line x1="487.52" y1="278.3" x2="487.52" y2="313.3" stroke="#d8445f" stroke-width="1.1"/><line x1="484.92" y1="278.3" x2="490.12" y2="278.3" stroke="#d8445f" stroke-width="1.3"/><line x1="487.52" y1="313.3" x2="487.52" y2="322.5" stroke="#d8445f" stroke-width="1.1"/><line x1="487.52" y1="331.8" x2="487.52" y2="348" stroke="#d8445f" stroke-width="1.1"/><line x1="484.92" y1="348" x2="490.12" y2="348" stroke="#d8445f" stroke-width="1.3"/><line x1="507.36" y1="250.5" x2="507.36" y2="322" stroke="#d8445f" stroke-width="1.1"/><line x1="507.36" y1="327.5" x2="507.36" y2="330.8" stroke="#d8445f" stroke-width="1.1"/><line x1="504.76" y1="250.5" x2="509.96" y2="250.5" stroke="#d8445f" stroke-width="1.3"/><line x1="507.36" y1="330.8" x2="507.36" y2="348" stroke="#d8445f" stroke-width="1.1"/><line x1="504.76" y1="348" x2="509.96" y2="348" stroke="#d8445f" stroke-width="1.3"/><line x1="328.8" y1="304.4" x2="328.8" y2="324.4" stroke="#2a6299" stroke-width="1.1"/><line x1="326.2" y1="304.4" x2="331.4" y2="304.4" stroke="#2a6299" stroke-width="1.3"/><line x1="328.8" y1="324.4" x2="328.8" y2="337.5" stroke="#2a6299" stroke-width="1.1"/><line x1="326.2" y1="337.5" x2="331.4" y2="337.5" stroke="#2a6299" stroke-width="1.3"/><line x1="388.32" y1="296.2" x2="388.32" y2="332.3" stroke="#2a6299" stroke-width="1.1"/><line x1="385.72" y1="296.2" x2="390.92" y2="296.2" stroke="#2a6299" stroke-width="1.3"/><line x1="388.32" y1="332.3" x2="388.32" y2="351.2" stroke="#2a6299" stroke-width="1.1"/><line x1="385.72" y1="351.2" x2="390.92" y2="351.2" stroke="#2a6299" stroke-width="1.3"/><line x1="408.16" y1="320.2" x2="408.16" y2="334.2" stroke="#2a6299" stroke-width="1.1"/><line x1="405.56" y1="320.2" x2="410.76" y2="320.2" stroke="#2a6299" stroke-width="1.3"/><line x1="408.16" y1="334.2" x2="408.16" y2="343.3" stroke="#2a6299" stroke-width="1.1"/><line x1="405.56" y1="343.3" x2="410.76" y2="343.3" stroke="#2a6299" stroke-width="1.3"/><line x1="428" y1="301.5" x2="428" y2="333.3" stroke="#2a6299" stroke-width="1.1"/><line x1="425.4" y1="301.5" x2="430.6" y2="301.5" stroke="#2a6299" stroke-width="1.3"/><line x1="428" y1="333.3" x2="428" y2="344.3" stroke="#2a6299" stroke-width="1.1"/><line x1="425.4" y1="344.3" x2="430.6" y2="344.3" stroke="#2a6299" stroke-width="1.3"/><line x1="447.84" y1="306.8" x2="447.84" y2="330.5" stroke="#2a6299" stroke-width="1.1"/><line x1="445.24" y1="306.8" x2="450.44" y2="306.8" stroke="#2a6299" stroke-width="1.3"/><line x1="447.84" y1="330.5" x2="447.84" y2="344.3" stroke="#2a6299" stroke-width="1.1"/><line x1="445.24" y1="344.3" x2="450.44" y2="344.3" stroke="#2a6299" stroke-width="1.3"/><line x1="487.52" y1="322.5" x2="487.52" y2="331.8" stroke="#2a6299" stroke-width="1.1"/><line x1="484.92" y1="331.8" x2="490.12" y2="331.8" stroke="#2a6299" stroke-width="1.3"/><line x1="507.36" y1="322" x2="507.36" y2="327.5" stroke="#2a6299" stroke-width="1.1"/><line x1="504.76" y1="322" x2="509.96" y2="322" stroke="#2a6299" stroke-width="1.3"/><polyline points="328.8,323.8 348.64,351.2 368.48,351.2 388.32,336.9 408.16,339.2 428,331.8 447.84,320 467.68,285.8 487.52,313.3 507.36,330.8" fill="none" stroke="#c8102e" stroke-width="1.6" stroke-linejoin="round"/><rect x="326.05" y="321.05" width="5.5" height="5.5" fill="#c8102e"/><rect x="345.89" y="348.45" width="5.5" height="5.5" fill="#c8102e"/><rect x="365.73" y="348.45" width="5.5" height="5.5" fill="#c8102e"/><rect x="385.57" y="334.15" width="5.5" height="5.5" fill="#c8102e"/><rect x="405.41" y="336.45" width="5.5" height="5.5" fill="#c8102e"/><rect x="425.25" y="329.05" width="5.5" height="5.5" fill="#c8102e"/><rect x="445.09" y="317.25" width="5.5" height="5.5" fill="#c8102e"/><rect x="464.93" y="283.05" width="5.5" height="5.5" fill="#c8102e"/><rect x="484.77" y="310.55" width="5.5" height="5.5" fill="#c8102e"/><rect x="504.61" y="328.05" width="5.5" height="5.5" fill="#c8102e"/><polyline points="328.8,324.4 348.64,351.2 368.48,351.2 388.32,332.3 408.16,334.2 428,333.3 447.84,330.5 467.68,313.3 487.52,322.5 507.36,327.5" fill="none" stroke="#0b4b86" stroke-width="1.6" stroke-linejoin="round"/><circle cx="328.8" cy="324.4" r="2.75" fill="#0b4b86"/><circle cx="348.64" cy="351.2" r="2.75" fill="#0b4b86"/><circle cx="368.48" cy="351.2" r="2.75" fill="#0b4b86"/><circle cx="388.32" cy="332.3" r="2.75" fill="#0b4b86"/><circle cx="408.16" cy="334.2" r="2.75" fill="#0b4b86"/><circle cx="428" cy="333.3" r="2.75" fill="#0b4b86"/><circle cx="447.84" cy="330.5" r="2.75" fill="#0b4b86"/><circle cx="467.68" cy="313.3" r="2.75" fill="#0b4b86"/><circle cx="487.52" cy="322.5" r="2.75" fill="#0b4b86"/><circle cx="507.36" cy="327.5" r="2.75" fill="#0b4b86"/></g>
<g><text x="133.5" y="407.6" font-size="10.1" text-anchor="middle" fill="#111" textLength="55.3" lengthAdjust="spacingAndGlyphs">DN mem cells</text><line x1="34.5" y1="413.3" x2="34.5" y2="549" stroke="#1a1a1a" stroke-width="1.1"/><line x1="31.2" y1="548.6" x2="34.5" y2="548.6" stroke="#1a1a1a" stroke-width="1"/><text x="28.7" y="551.3" font-size="8.8" text-anchor="end" class="tk" textLength="4.4" lengthAdjust="spacingAndGlyphs">0</text><line x1="31.2" y1="504.5" x2="34.5" y2="504.5" stroke="#1a1a1a" stroke-width="1"/><text x="28.7" y="507.2" font-size="8.8" text-anchor="end" class="tk" textLength="4.4" lengthAdjust="spacingAndGlyphs">5</text><line x1="31.2" y1="460.4" x2="34.5" y2="460.4" stroke="#1a1a1a" stroke-width="1"/><text x="28.7" y="463.1" font-size="8.8" text-anchor="end" class="tk" textLength="8.81" lengthAdjust="spacingAndGlyphs">10</text><line x1="31.2" y1="416.3" x2="34.5" y2="416.3" stroke="#1a1a1a" stroke-width="1"/><text x="28.7" y="419" font-size="8.8" text-anchor="end" class="tk" textLength="8.81" lengthAdjust="spacingAndGlyphs">15</text><line x1="31.5" y1="549" x2="227.8" y2="549" stroke="#505050" stroke-width="2"/><line x1="44.4" y1="549" x2="44.4" y2="552" stroke="#1a1a1a" stroke-width="1"/><text x="44.4" y="560.6" font-size="8.8" text-anchor="middle" class="tk" textLength="4.4" lengthAdjust="spacingAndGlyphs">0</text><line x1="64.18" y1="549" x2="64.18" y2="552" stroke="#1a1a1a" stroke-width="1"/><text x="64.18" y="560.6" font-size="8.8" text-anchor="middle" class="tk" textLength="4.4" lengthAdjust="spacingAndGlyphs">1</text><line x1="83.96" y1="549" x2="83.96" y2="552" stroke="#1a1a1a" stroke-width="1"/><text x="83.96" y="560.6" font-size="8.8" text-anchor="middle" class="tk" textLength="4.4" lengthAdjust="spacingAndGlyphs">3</text><line x1="103.74" y1="549" x2="103.74" y2="552" stroke="#1a1a1a" stroke-width="1"/><text x="103.74" y="560.6" font-size="8.8" text-anchor="middle" class="tk" textLength="4.4" lengthAdjust="spacingAndGlyphs">6</text><line x1="123.52" y1="549" x2="123.52" y2="552" stroke="#1a1a1a" stroke-width="1"/><text x="123.52" y="560.6" font-size="8.8" text-anchor="middle" class="tk" textLength="4.4" lengthAdjust="spacingAndGlyphs">9</text><line x1="143.3" y1="549" x2="143.3" y2="552" stroke="#1a1a1a" stroke-width="1"/><text x="143.3" y="560.6" font-size="8.8" text-anchor="middle" class="tk" textLength="8.81" lengthAdjust="spacingAndGlyphs">12</text><line x1="163.08" y1="549" x2="163.08" y2="552" stroke="#1a1a1a" stroke-width="1"/><text x="163.08" y="560.6" font-size="8.8" text-anchor="middle" class="tk" textLength="8.81" lengthAdjust="spacingAndGlyphs">15</text><line x1="182.86" y1="549" x2="182.86" y2="552" stroke="#1a1a1a" stroke-width="1"/><text x="182.86" y="560.6" font-size="8.8" text-anchor="middle" class="tk" textLength="8.81" lengthAdjust="spacingAndGlyphs">18</text><line x1="202.64" y1="549" x2="202.64" y2="552" stroke="#1a1a1a" stroke-width="1"/><text x="202.64" y="560.6" font-size="8.8" text-anchor="middle" class="tk" textLength="8.81" lengthAdjust="spacingAndGlyphs">21</text><line x1="222.42" y1="549" x2="222.42" y2="552" stroke="#1a1a1a" stroke-width="1"/><text x="222.42" y="560.6" font-size="8.8" text-anchor="middle" class="tk" textLength="8.81" lengthAdjust="spacingAndGlyphs">24</text><text x="131.15" y="572.9" font-size="10" text-anchor="middle" fill="#000" stroke="#000" stroke-width="0.18" textLength="41" lengthAdjust="spacingAndGlyphs">Time (months)</text><text transform="translate(14.1 481) rotate(-90)" x="0" y="0" font-size="10" text-anchor="middle" fill="#000" stroke="#000" stroke-width="0.18" textLength="91" lengthAdjust="spacingAndGlyphs">Percentage of CD19+ population</text><line x1="44.4" y1="479.8" x2="44.4" y2="481.9" stroke="#d8445f" stroke-width="1.1"/><line x1="41.8" y1="479.8" x2="47" y2="479.8" stroke="#d8445f" stroke-width="1.3"/><line x1="44.4" y1="539" x2="44.4" y2="542.8" stroke="#d8445f" stroke-width="1.1"/><line x1="41.8" y1="542.8" x2="47" y2="542.8" stroke="#d8445f" stroke-width="1.3"/><line x1="83.96" y1="516.5" x2="83.96" y2="548.6" stroke="#d8445f" stroke-width="1.1"/><line x1="81.36" y1="516.5" x2="86.56" y2="516.5" stroke="#d8445f" stroke-width="1.3"/><line x1="103.74" y1="514.2" x2="103.74" y2="515.8" stroke="#d8445f" stroke-width="1.1"/><line x1="101.14" y1="514.2" x2="106.34" y2="514.2" stroke="#d8445f" stroke-width="1.3"/><line x1="120.92" y1="500.2" x2="126.12" y2="500.2" stroke="#d8445f" stroke-width="1.3"/><line x1="123.52" y1="546.3" x2="123.52" y2="548" stroke="#d8445f" stroke-width="1.1"/><line x1="120.92" y1="548" x2="126.12" y2="548" stroke="#d8445f" stroke-width="1.3"/><line x1="140.7" y1="507.4" x2="145.9" y2="507.4" stroke="#d8445f" stroke-width="1.3"/><line x1="140.7" y1="542.6" x2="145.9" y2="542.6" stroke="#d8445f" stroke-width="1.3"/><line x1="160.48" y1="500.2" x2="165.68" y2="500.2" stroke="#d8445f" stroke-width="1.3"/><line x1="163.08" y1="543.3" x2="163.08" y2="546.3" stroke="#d8445f" stroke-width="1.1"/><line x1="160.48" y1="546.3" x2="165.68" y2="546.3" stroke="#d8445f" stroke-width="1.3"/><line x1="182.86" y1="497.7" x2="182.86" y2="511.4" stroke="#d8445f" stroke-width="1.1"/><line x1="180.26" y1="497.7" x2="185.46" y2="497.7" stroke="#d8445f" stroke-width="1.3"/><line x1="182.86" y1="511.4" x2="182.86" y2="525.1" stroke="#d8445f" stroke-width="1.1"/><line x1="180.26" y1="525.1" x2="185.46" y2="525.1" stroke="#d8445f" stroke-width="1.3"/><line x1="200.04" y1="511.4" x2="205.24" y2="511.4" stroke="#d8445f" stroke-width="1.3"/><line x1="202.64" y1="535.8" x2="202.64" y2="548" stroke="#d8445f" stroke-width="1.1"/><line x1="200.04" y1="548" x2="205.24" y2="548" stroke="#d8445f" stroke-width="1.3"/><line x1="222.42" y1="509" x2="222.42" y2="536.4" stroke="#d8445f" stroke-width="1.1"/><line x1="219.82" y1="507.7" x2="225.02" y2="507.7" stroke="#d8445f" stroke-width="1.3"/><line x1="222.42" y1="536.4" x2="222.42" y2="548" stroke="#d8445f" stroke-width="1.1"/><line x1="219.82" y1="548" x2="225.02" y2="548" stroke="#d8445f" stroke-width="1.3"/><line x1="44.4" y1="481.9" x2="44.4" y2="524.8" stroke="#2a6299" stroke-width="1.1"/><line x1="41.8" y1="481.9" x2="47" y2="481.9" stroke="#2a6299" stroke-width="1.3"/><line x1="44.4" y1="524.8" x2="44.4" y2="539" stroke="#2a6299" stroke-width="1.1"/><line x1="41.8" y1="539" x2="47" y2="539" stroke="#2a6299" stroke-width="1.3"/><line x1="103.74" y1="515.8" x2="103.74" y2="537.4" stroke="#2a6299" stroke-width="1.1"/><line x1="101.14" y1="515.8" x2="106.34" y2="515.8" stroke="#2a6299" stroke-width="1.3"/><line x1="103.74" y1="537.4" x2="103.74" y2="548" stroke="#2a6299" stroke-width="1.1"/><line x1="101.14" y1="548" x2="106.34" y2="548" stroke="#2a6299" stroke-width="1.3"/><line x1="123.52" y1="463.5" x2="123.52" y2="537.4" stroke="#2a6299" stroke-width="1.1"/><line x1="120.92" y1="463.5" x2="126.12" y2="463.5" stroke="#2a6299" stroke-width="1.3"/><line x1="123.52" y1="537.4" x2="123.52" y2="546.3" stroke="#2a6299" stroke-width="1.1"/><line x1="120.92" y1="546.3" x2="126.12" y2="546.3" stroke="#2a6299" stroke-width="1.3"/><line x1="143.3" y1="496.3" x2="143.3" y2="535.1" stroke="#2a6299" stroke-width="1.1"/><line x1="140.7" y1="496.3" x2="145.9" y2="496.3" stroke="#2a6299" stroke-width="1.3"/><line x1="143.3" y1="535.1" x2="143.3" y2="544.7" stroke="#2a6299" stroke-width="1.1"/><line x1="140.7" y1="544.7" x2="145.9" y2="544.7" stroke="#2a6299" stroke-width="1.3"/><line x1="163.08" y1="477.7" x2="163.08" y2="509.1" stroke="#2a6299" stroke-width="1.1"/><line x1="160.48" y1="477.7" x2="165.68" y2="477.7" stroke="#2a6299" stroke-width="1.3"/><line x1="163.08" y1="509.1" x2="163.08" y2="543.3" stroke="#2a6299" stroke-width="1.1"/><line x1="160.48" y1="543.3" x2="165.68" y2="543.3" stroke="#2a6299" stroke-width="1.3"/><line x1="202.64" y1="474.2" x2="202.64" y2="505.3" stroke="#2a6299" stroke-width="1.1"/><line x1="200.04" y1="474.2" x2="205.24" y2="474.2" stroke="#2a6299" stroke-width="1.3"/><line x1="202.64" y1="505.3" x2="202.64" y2="535.8" stroke="#2a6299" stroke-width="1.1"/><line x1="200.04" y1="535.8" x2="205.24" y2="535.8" stroke="#2a6299" stroke-width="1.3"/><line x1="222.42" y1="498.6" x2="222.42" y2="504" stroke="#2a6299" stroke-width="1.1"/><line x1="219.82" y1="498.6" x2="225.02" y2="498.6" stroke="#2a6299" stroke-width="1.3"/><line x1="222.42" y1="504" x2="222.42" y2="509" stroke="#2a6299" stroke-width="1.1"/><line x1="219.82" y1="509" x2="225.02" y2="509" stroke="#2a6299" stroke-width="1.3"/><polyline points="44.4,531.3 64.18,548.6 83.96,548.6 103.74,546.3 123.52,539 143.3,535.6 163.08,519.3 182.86,511.4 202.64,530 222.42,536.4" fill="none" stroke="#c8102e" stroke-width="1.6" stroke-linejoin="round"/><rect x="41.65" y="528.55" width="5.5" height="5.5" fill="#c8102e"/><rect x="61.43" y="545.85" width="5.5" height="5.5" fill="#c8102e"/><rect x="81.21" y="545.85" width="5.5" height="5.5" fill="#c8102e"/><rect x="100.99" y="543.55" width="5.5" height="5.5" fill="#c8102e"/><rect x="120.77" y="536.25" width="5.5" height="5.5" fill="#c8102e"/><rect x="140.55" y="532.85" width="5.5" height="5.5" fill="#c8102e"/><rect x="160.33" y="516.55" width="5.5" height="5.5" fill="#c8102e"/><rect x="180.11" y="508.65" width="5.5" height="5.5" fill="#c8102e"/><rect x="199.89" y="527.25" width="5.5" height="5.5" fill="#c8102e"/><rect x="219.67" y="533.65" width="5.5" height="5.5" fill="#c8102e"/><polyline points="44.4,524.8 64.18,548.6 83.96,548.6 103.74,537.4 123.52,537.4 143.3,535.1 163.08,509.1 182.86,504.2 202.64,505.3 222.42,504" fill="none" stroke="#0b4b86" stroke-width="1.6" stroke-linejoin="round"/><circle cx="44.4" cy="524.8" r="2.75" fill="#0b4b86"/><circle cx="64.18" cy="548.6" r="2.75" fill="#0b4b86"/><circle cx="83.96" cy="548.6" r="2.75" fill="#0b4b86"/><circle cx="103.74" cy="537.4" r="2.75" fill="#0b4b86"/><circle cx="123.52" cy="537.4" r="2.75" fill="#0b4b86"/><circle cx="143.3" cy="535.1" r="2.75" fill="#0b4b86"/><circle cx="163.08" cy="509.1" r="2.75" fill="#0b4b86"/><circle cx="182.86" cy="504.2" r="2.75" fill="#0b4b86"/><circle cx="202.64" cy="505.3" r="2.75" fill="#0b4b86"/><circle cx="222.42" cy="504" r="2.75" fill="#0b4b86"/></g>
<g><text x="418" y="407.3" font-size="10.1" text-anchor="middle" fill="#111" textLength="51.5" lengthAdjust="spacingAndGlyphs">Plasmablasts</text><line x1="319.35" y1="413.5" x2="319.35" y2="549" stroke="#222" stroke-width="1.2"/><line x1="316.05" y1="548.8" x2="319.35" y2="548.8" stroke="#1a1a1a" stroke-width="1"/><text x="313.55" y="552.3" font-size="8.8" text-anchor="end" class="tk" textLength="4.4" lengthAdjust="spacingAndGlyphs">0</text><line x1="316.05" y1="522.5" x2="319.35" y2="522.5" stroke="#1a1a1a" stroke-width="1"/><text x="313.55" y="526" font-size="8.8" text-anchor="end" class="tk" textLength="4.4" lengthAdjust="spacingAndGlyphs">5</text><line x1="316.05" y1="496.2" x2="319.35" y2="496.2" stroke="#1a1a1a" stroke-width="1"/><text x="313.55" y="499.7" font-size="8.8" text-anchor="end" class="tk" textLength="8.81" lengthAdjust="spacingAndGlyphs">10</text><line x1="316.05" y1="469.9" x2="319.35" y2="469.9" stroke="#1a1a1a" stroke-width="1"/><text x="313.55" y="473.4" font-size="8.8" text-anchor="end" class="tk" textLength="8.81" lengthAdjust="spacingAndGlyphs">15</text><line x1="316.05" y1="443.6" x2="319.35" y2="443.6" stroke="#1a1a1a" stroke-width="1"/><text x="313.55" y="447.1" font-size="8.8" text-anchor="end" class="tk" textLength="8.81" lengthAdjust="spacingAndGlyphs">20</text><line x1="316.05" y1="417.3" x2="319.35" y2="417.3" stroke="#1a1a1a" stroke-width="1"/><text x="313.55" y="420.8" font-size="8.8" text-anchor="end" class="tk" textLength="8.81" lengthAdjust="spacingAndGlyphs">25</text><line x1="316" y1="549" x2="512.9" y2="549" stroke="#505050" stroke-width="2"/><line x1="328.8" y1="549" x2="328.8" y2="552" stroke="#1a1a1a" stroke-width="1"/><text x="328.8" y="560.7" font-size="8.8" text-anchor="middle" class="tk" textLength="4.4" lengthAdjust="spacingAndGlyphs">0</text><line x1="348.63" y1="549" x2="348.63" y2="552" stroke="#1a1a1a" stroke-width="1"/><text x="348.63" y="560.7" font-size="8.8" text-anchor="middle" class="tk" textLength="4.4" lengthAdjust="spacingAndGlyphs">1</text><line x1="368.46" y1="549" x2="368.46" y2="552" stroke="#1a1a1a" stroke-width="1"/><text x="368.46" y="560.7" font-size="8.8" text-anchor="middle" class="tk" textLength="4.4" lengthAdjust="spacingAndGlyphs">3</text><line x1="388.29" y1="549" x2="388.29" y2="552" stroke="#1a1a1a" stroke-width="1"/><text x="388.29" y="560.7" font-size="8.8" text-anchor="middle" class="tk" textLength="4.4" lengthAdjust="spacingAndGlyphs">6</text><line x1="408.12" y1="549" x2="408.12" y2="552" stroke="#1a1a1a" stroke-width="1"/><text x="408.12" y="560.7" font-size="8.8" text-anchor="middle" class="tk" textLength="4.4" lengthAdjust="spacingAndGlyphs">9</text><line x1="427.95" y1="549" x2="427.95" y2="552" stroke="#1a1a1a" stroke-width="1"/><text x="427.95" y="560.7" font-size="8.8" text-anchor="middle" class="tk" textLength="8.81" lengthAdjust="spacingAndGlyphs">12</text><line x1="447.78" y1="549" x2="447.78" y2="552" stroke="#1a1a1a" stroke-width="1"/><text x="447.78" y="560.7" font-size="8.8" text-anchor="middle" class="tk" textLength="8.81" lengthAdjust="spacingAndGlyphs">15</text><line x1="467.61" y1="549" x2="467.61" y2="552" stroke="#1a1a1a" stroke-width="1"/><text x="467.61" y="560.7" font-size="8.8" text-anchor="middle" class="tk" textLength="8.81" lengthAdjust="spacingAndGlyphs">18</text><line x1="487.44" y1="549" x2="487.44" y2="552" stroke="#1a1a1a" stroke-width="1"/><text x="487.44" y="560.7" font-size="8.8" text-anchor="middle" class="tk" textLength="8.81" lengthAdjust="spacingAndGlyphs">21</text><line x1="507.27" y1="549" x2="507.27" y2="552" stroke="#1a1a1a" stroke-width="1"/><text x="507.27" y="560.7" font-size="8.8" text-anchor="middle" class="tk" textLength="8.81" lengthAdjust="spacingAndGlyphs">24</text><text x="416.12" y="573" font-size="10" text-anchor="middle" fill="#000" stroke="#000" stroke-width="0.18" textLength="41" lengthAdjust="spacingAndGlyphs">Time (months)</text><text transform="translate(297.4 481.15) rotate(-90)" x="0" y="0" font-size="10" text-anchor="middle" fill="#000" stroke="#000" stroke-width="0.18" textLength="91" lengthAdjust="spacingAndGlyphs">Percentage of CD19+ population</text><line x1="328.8" y1="543.8" x2="328.8" y2="546" stroke="#d8445f" stroke-width="1.1"/><line x1="326.2" y1="543.8" x2="331.4" y2="543.8" stroke="#d8445f" stroke-width="1.3"/><line x1="368.46" y1="538.6" x2="368.46" y2="548.8" stroke="#d8445f" stroke-width="1.1"/><line x1="365.86" y1="538.6" x2="371.06" y2="538.6" stroke="#d8445f" stroke-width="1.3"/><line x1="385.69" y1="518.1" x2="390.89" y2="518.1" stroke="#d8445f" stroke-width="1.3"/><line x1="408.12" y1="503.2" x2="408.12" y2="534.4" stroke="#d8445f" stroke-width="1.1"/><line x1="405.52" y1="503.2" x2="410.72" y2="503.2" stroke="#d8445f" stroke-width="1.3"/><line x1="427.95" y1="535" x2="427.95" y2="541.8" stroke="#d8445f" stroke-width="1.1"/><line x1="425.35" y1="535" x2="430.55" y2="535" stroke="#d8445f" stroke-width="1.3"/><line x1="447.78" y1="429.3" x2="447.78" y2="537.5" stroke="#d8445f" stroke-width="1.1"/><line x1="445.18" y1="429.3" x2="450.38" y2="429.3" stroke="#d8445f" stroke-width="1.3"/><line x1="467.61" y1="509.5" x2="467.61" y2="526.8" stroke="#d8445f" stroke-width="1.1"/><line x1="465.01" y1="509.5" x2="470.21" y2="509.5" stroke="#d8445f" stroke-width="1.3"/><line x1="467.61" y1="526.8" x2="467.61" y2="548.8" stroke="#d8445f" stroke-width="1.1"/><line x1="465.01" y1="548.8" x2="470.21" y2="548.8" stroke="#d8445f" stroke-width="1.3"/><line x1="487.44" y1="523.8" x2="487.44" y2="529" stroke="#d8445f" stroke-width="1.1"/><line x1="484.84" y1="523.8" x2="490.04" y2="523.8" stroke="#d8445f" stroke-width="1.3"/><line x1="487.44" y1="529" x2="487.44" y2="534" stroke="#d8445f" stroke-width="1.1"/><line x1="484.84" y1="534" x2="490.04" y2="534" stroke="#d8445f" stroke-width="1.3"/><line x1="507.27" y1="529.5" x2="507.27" y2="543.1" stroke="#d8445f" stroke-width="1.1"/><line x1="504.67" y1="529.5" x2="509.87" y2="529.5" stroke="#d8445f" stroke-width="1.3"/><line x1="328.8" y1="468.1" x2="328.8" y2="538.1" stroke="#2a6299" stroke-width="1.1"/><line x1="326.2" y1="468.1" x2="331.4" y2="468.1" stroke="#2a6299" stroke-width="1.3"/><line x1="388.29" y1="514.7" x2="388.29" y2="542.6" stroke="#2a6299" stroke-width="1.1"/><line x1="385.69" y1="514.7" x2="390.89" y2="514.7" stroke="#2a6299" stroke-width="1.3"/><line x1="388.29" y1="542.6" x2="388.29" y2="548.8" stroke="#2a6299" stroke-width="1.1"/><line x1="385.69" y1="548.8" x2="390.89" y2="548.8" stroke="#2a6299" stroke-width="1.3"/><line x1="408.12" y1="534.4" x2="408.12" y2="543.5" stroke="#2a6299" stroke-width="1.1"/><line x1="405.52" y1="534.4" x2="410.72" y2="534.4" stroke="#2a6299" stroke-width="1.3"/><line x1="427.95" y1="541.8" x2="427.95" y2="546.3" stroke="#2a6299" stroke-width="1.1"/><line x1="425.35" y1="541.8" x2="430.55" y2="541.8" stroke="#2a6299" stroke-width="1.3"/><line x1="447.78" y1="542.5" x2="447.78" y2="546.8" stroke="#2a6299" stroke-width="1.1"/><line x1="445.18" y1="542.5" x2="450.38" y2="542.5" stroke="#2a6299" stroke-width="1.3"/><line x1="487.44" y1="542.5" x2="487.44" y2="545.8" stroke="#2a6299" stroke-width="1.1"/><line x1="484.84" y1="542.5" x2="490.04" y2="542.5" stroke="#2a6299" stroke-width="1.3"/><polyline points="328.8,546 348.63,548.8 368.46,548.8 388.29,544 408.12,540.9 427.95,543.8 447.78,537.5 467.61,526.8 487.44,529 507.27,543.1" fill="none" stroke="#c8102e" stroke-width="1.6" stroke-linejoin="round"/><rect x="326.05" y="543.25" width="5.5" height="5.5" fill="#c8102e"/><rect x="345.88" y="546.05" width="5.5" height="5.5" fill="#c8102e"/><rect x="365.71" y="546.05" width="5.5" height="5.5" fill="#c8102e"/><rect x="385.54" y="541.25" width="5.5" height="5.5" fill="#c8102e"/><rect x="405.37" y="538.15" width="5.5" height="5.5" fill="#c8102e"/><rect x="425.2" y="541.05" width="5.5" height="5.5" fill="#c8102e"/><rect x="445.03" y="534.75" width="5.5" height="5.5" fill="#c8102e"/><rect x="464.86" y="524.05" width="5.5" height="5.5" fill="#c8102e"/><rect x="484.69" y="526.25" width="5.5" height="5.5" fill="#c8102e"/><rect x="504.52" y="540.35" width="5.5" height="5.5" fill="#c8102e"/><polyline points="328.8,538.1 348.63,548.8 368.46,548.8 388.29,542.6 408.12,543.5 427.95,546.3 447.78,546.8 467.61,546.3 487.44,545.8 507.27,546.2" fill="none" stroke="#0b4b86" stroke-width="1.6" stroke-linejoin="round"/><circle cx="328.8" cy="538.1" r="2.75" fill="#0b4b86"/><circle cx="348.63" cy="548.8" r="2.75" fill="#0b4b86"/><circle cx="368.46" cy="548.8" r="2.75" fill="#0b4b86"/><circle cx="388.29" cy="542.6" r="2.75" fill="#0b4b86"/><circle cx="408.12" cy="543.5" r="2.75" fill="#0b4b86"/><circle cx="427.95" cy="546.3" r="2.75" fill="#0b4b86"/><circle cx="447.78" cy="546.8" r="2.75" fill="#0b4b86"/><circle cx="467.61" cy="546.3" r="2.75" fill="#0b4b86"/><circle cx="487.44" cy="545.8" r="2.75" fill="#0b4b86"/><circle cx="507.27" cy="546.2" r="2.75" fill="#0b4b86"/></g>
</svg></body></html>
